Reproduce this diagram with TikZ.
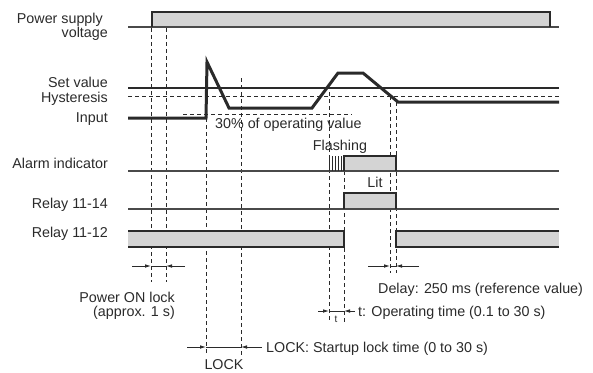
\documentclass[tikz,border=0pt]{standalone}
\usepackage{fontspec}
\setmainfont{Liberation Sans}
\usetikzlibrary{arrows.meta}
\definecolor{barfill}{HTML}{D4D4D4}
\definecolor{ink}{HTML}{2A2A2A}
\tikzset{
  lbl/.style={inner sep=0pt, font=\fontsize{14.3bp}{16bp}\selectfont, text=ink},
  smalllbl/.style={inner sep=0pt, font=\fontsize{10bp}{12bp}\selectfont, text=ink},
  base/.style={draw=ink!85, line width=1.1bp},
  sig/.style={draw=ink, line width=2.6bp},
  inp/.style={draw=ink, line width=3bp, line join=miter},
  bar/.style={fill=barfill},
  edge/.style={draw=ink, line width=1.3bp},
  guide/.style={draw=ink, line width=0.8bp, dash pattern=on 4bp off 3bp},
  dim/.style={draw=ink, line width=0.8bp},
  dimarrow/.style={dim, -{Latex[length=6bp,width=3.6bp]}},
}
\begin{document}
\begin{tikzpicture}[x=1bp,y=-1bp]
\useasboundingbox (0,0) rectangle (593,372);

% ---------- left labels ----------
\node[lbl, anchor=base east] (lps) at (103,23) {Power supply};
\node[lbl, anchor=base east] (lvo) at (108,37) {voltage};
\node[lbl, anchor=base east] (lsv) at (108,87) {Set value};
\node[lbl, anchor=base east] (lhy) at (108,102) {Hysteresis};
\node[lbl, anchor=base east] (lin) at (108,122) {Input};
\node[lbl, anchor=base east] (lal) at (108,168) {Alarm indicator};
\node[lbl, anchor=base east] (lr14) at (108,208) {Relay 11-14};
\node[lbl, anchor=base east] (lr12) at (108,237) {Relay 11-12};

% ---------- power supply ----------
\fill[bar] (152,12) rectangle (550,27);
\draw[base] (128,27) -- (559,27);
\draw[edge] (152,27) -- (152,12) -- (550,12) -- (550,27);

% ---------- guides (dashed verticals) ----------
\coordinate (p1) at (151,266);
\coordinate (p2) at (166,266);
\coordinate (l1) at (206,347);
\coordinate (l2) at (241,347);
\coordinate (t1) at (329,311);
\coordinate (t2) at (344,311);
\coordinate (d1) at (390,266);
\coordinate (d2) at (396,266);
\draw[guide] (151,28) -- (151,282);
\draw[guide] (166,28) -- (166,282);
\draw[guide] (206,118) -- (206,356);
\draw[guide] (241,78) -- (241,356);
\draw[guide] (329,92) -- (329,322);
\draw[guide] (344,171) -- (344,322);
\draw[guide] (390,96) -- (390,273);
\draw[guide] (396,102) -- (396,273);

% ---------- set value / hysteresis / input ----------
\draw[sig] (128,88) -- (559,88);
\draw[guide] (128,96.5) -- (559,96.5);
\draw[guide] (183,114) -- (352,114);
\draw[inp] (128,118) -- (206,118) -- (207,62) -- (229,108) -- (312,108)
   -- (338,73) -- (363,73) -- (398,102) -- (559,102);
\node[lbl, anchor=base west] (l30) at (215,128) {30\% of operating value};

% ---------- alarm indicator ----------
\fill[bar] (344,156) rectangle (396,171);
\draw[base] (128,171) -- (559,171);
\draw[edge] (344,171) -- (344,156) -- (396,156) -- (396,171);
\foreach \xx in {329,332,335,338,341} \draw[ink, line width=0.9bp] (\xx,156) -- (\xx,171);
\node[lbl, anchor=base] (lfl) at (340,150) {Flashing};
\node[lbl, anchor=base] (llit) at (375,187) {Lit};

% ---------- relay 11-14 ----------
\fill[bar] (344,193) rectangle (396,209);
\draw[base] (128,209) -- (559,209);
\draw[edge] (344,209) -- (344,193) -- (396,193) -- (396,209);

% ---------- relay 11-12 ----------
\fill[bar] (128,231) rectangle (344,247);
\fill[bar] (396,231) rectangle (559,247);
\draw[edge] (128,231) -- (344,231) -- (344,247) -- (128,247);
\draw[edge] (559,231) -- (396,231) -- (396,247) -- (559,247);

% ---------- dimension arrows ----------
\coordinate (p1s) at (132,266);
\coordinate (p2s) at (185,266);
\draw[dim] (p1) -- (p2);
\draw[dimarrow] (p1s) -- (p1);
\draw[dimarrow] (p2s) -- (p2);
\node[lbl, anchor=base east] (lpo) at (175,302) {Power ON lock};
\node[lbl, anchor=base east] (lap) at (175,316) {(approx. 1 s)};

\coordinate (l1s) at (187,347);
\coordinate (l2s) at (262,347);
\draw[dim] (l1) -- (l2);
\draw[dimarrow] (l1s) -- (l1);
\draw[dimarrow] (l2s) -- (l2);
\node[lbl, anchor=base] (llock) at (224,369) {LOCK};
\node[lbl, anchor=base west] (llockd) at (266,352) {LOCK: Startup lock time (0 to 30 s)};

\coordinate (t1s) at (318,311);
\coordinate (t2s) at (355,311);
\draw[dim] (t1) -- (t2);
\draw[dimarrow] (t1s) -- (t1);
\draw[dimarrow] (t2s) -- (t2);
\node[smalllbl, anchor=base] (lt) at (336,322) {t};
\node[lbl, anchor=base west] (ltd) at (358,316) {t: Operating time (0.1 to 30 s)};

\coordinate (d1s) at (368,266);
\coordinate (d2s) at (419,266);
\draw[dim] (d1) -- (d2);
\draw[dimarrow] (d1s) -- (d1);
\draw[dimarrow] (d2s) -- (d2);
\node[lbl, anchor=base west] (ldl) at (378,293) {Delay: 250 ms (reference value)};
\end{tikzpicture}
\end{document}
